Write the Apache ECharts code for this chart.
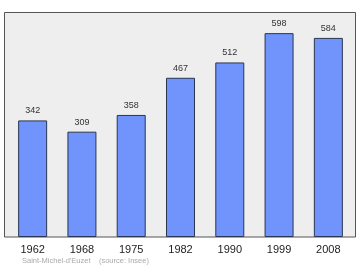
<!DOCTYPE html>
<html><head><meta charset="utf-8">
<script src="https://cdn.jsdelivr.net/npm/echarts@6/dist/echarts.min.js"></script>
<style>html,body{margin:0;padding:0;background:#fff}#c{width:360px;height:270px}</style>
</head><body><div id="c"></div>
<script>
const categories = ['1962','1968','1975','1982','1990','1999','2008'];
const population = [342, 309, 358, 467, 512, 598, 584];
const footer = "Saint-Michel-d'Euzet    (source: Insee)";

const chart = echarts.init(document.getElementById('c'), null, {renderer:'canvas'});
chart.setOption({
  animation: false,
  graphic: [
    {type:'rect', shape:{x:4.5, y:12.5, width:351, height:224.5}, style:{fill:'#eeeeee', stroke:'#555', lineWidth:1}, z:-10},
    {type:'text', left:22, top:257, style:{text:footer, font:'7.5px "Liberation Sans", Arial, sans-serif', fill:'#aaaaaa'}}
  ],
  grid: {left:8, right:7, top:12, bottom:33, show:false},
  xAxis: {
    type:'category', data:categories,
    axisLine:{show:false}, axisTick:{show:false},
    axisLabel:{color:'#222', fontSize:11, fontFamily:'Liberation Sans', margin:7}
  },
  yAxis: {type:'value', min:0, max:660, show:false, splitLine:{show:false}},
  series: [{
    type:'bar', data:population, barWidth:29,
    itemStyle:{color:'#7094fb', borderColor:'#2a3550', borderWidth:1},
    label:{show:true, position:'top', distance:5, color:'#333', fontSize:9, fontFamily:'Liberation Sans'}
  }]
});
</script></body></html>
